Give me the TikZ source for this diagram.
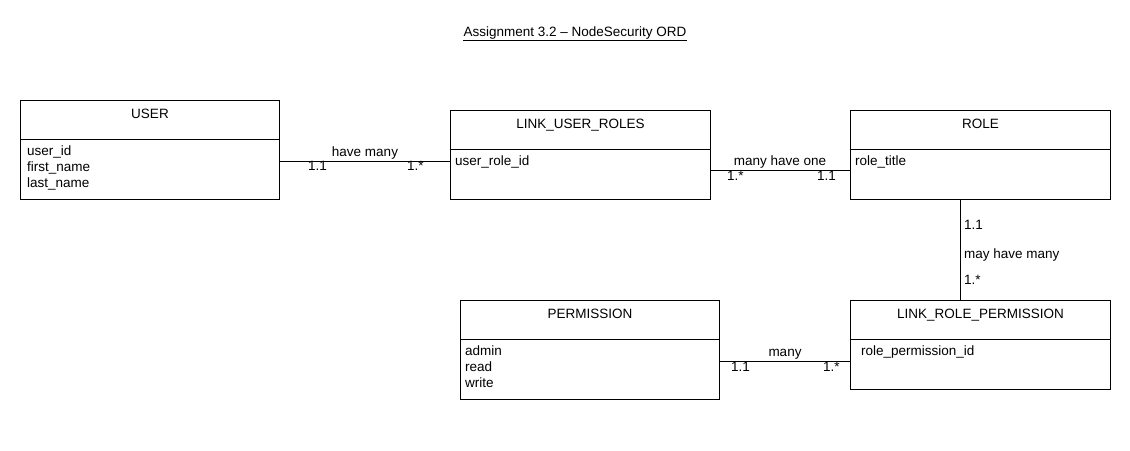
\documentclass[tikz,border=0pt]{standalone}
\usepackage{fontspec}
\setmainfont{Liberation Sans}
\usetikzlibrary{calc}
\begin{document}
\begin{tikzpicture}[x=1pt,y=-1pt,
  every node/.style={font=\fontsize{13.5}{16}\selectfont, inner sep=0pt, text=black},
  box/.style={draw, line width=1pt, rectangle, anchor=north west, minimum width=#1},
  ttl/.style={anchor=base},
  attr/.style={anchor=base west},
  lbl/.style={anchor=base},
  conn/.style={line width=1pt}]
\useasboundingbox[fill=white] (0,0) rectangle (1130,450);

% title
\node[ttl] (title) at (575,36) {Assignment 3.2 -- NodeSecurity ORD};
\draw[line width=0.8pt] ([yshift=-4pt]title.base west) -- ([yshift=-4pt]title.base east);

% USER
\node[box=259pt, minimum height=99pt] (user) at (20,100) {};
\draw[line width=1pt] ($(user.north west)+(0,39)$) -- ($(user.north east)+(0,39)$);
\node[ttl] (userT) at ($(user.north)+(0,18)$) {USER};
\node[attr] (u1) at ($(user.north west)+(7,55)$) {user\_id};
\node[attr] (u2) at ($(user.north west)+(7,71)$) {first\_name};
\node[attr] (u3) at ($(user.north west)+(7,87)$) {last\_name};

% LINK_USER_ROLES
\node[box=260pt, minimum height=89pt] (lur) at (450,110) {};
\draw[line width=1pt] ($(lur.north west)+(0,39)$) -- ($(lur.north east)+(0,39)$);
\node[ttl] (lurT) at ($(lur.north)+(0,18)$) {LINK\_USER\_ROLES};
\node[attr] (lur1) at ($(lur.north west)+(5,55)$) {user\_role\_id};

% ROLE
\node[box=260pt, minimum height=89pt] (role) at (850,110) {};
\draw[line width=1pt] ($(role.north west)+(0,39)$) -- ($(role.north east)+(0,39)$);
\node[ttl] (roleT) at ($(role.north)+(0,18)$) {ROLE};
\node[attr] (role1) at ($(role.north west)+(5,55)$) {role\_title};

% PERMISSION
\node[box=259pt, minimum height=99pt] (perm) at (460,300) {};
\draw[line width=1pt] ($(perm.north west)+(0,39)$) -- ($(perm.north east)+(0,39)$);
\node[ttl] (permT) at ($(perm.north)+(0,18)$) {PERMISSION};
\node[attr] (p1) at ($(perm.north west)+(5,55)$) {admin};
\node[attr] (p2) at ($(perm.north west)+(5,71)$) {read};
\node[attr] (p3) at ($(perm.north west)+(5,87)$) {write};

% LINK_ROLE_PERMISSION
\node[box=260pt, minimum height=89pt] (lrp) at (850,300) {};
\draw[line width=1pt] ($(lrp.north west)+(0,39)$) -- ($(lrp.north east)+(0,39)$);
\node[ttl] (lrpT) at ($(lrp.north)+(0,18)$) {LINK\_ROLE\_PERMISSION};
\node[attr] (lrp1) at ($(lrp.north west)+(11,55)$) {role\_permission\_id};

% connectors
\coordinate (c1a) at ($(user.north east)+(0,61)$);
\draw[conn] (c1a) -- (c1a -| lur.west);
\node[lbl] (c1l) at (365,156) {have many};
\node[attr] (c1m1) at (308,170) {1.1};
\node[attr] (c1m2) at (407,170) {1.*};

\coordinate (c2a) at ($(lur.north east)+(0,60)$);
\draw[conn] (c2a) -- (c2a -| role.west);
\node[lbl] (c2l) at (780,165) {many have one};
\node[attr] (c2m1) at (727,180) {1.*};
\node[attr] (c2m2) at (817,180) {1.1};

\coordinate (c3a) at ($(role.south west)+(110,0)$);
\draw[conn] (c3a) -- (c3a |- lrp.north);
\node[attr] (c3m1) at (964,229) {1.1};
\node[attr] (c3l) at (964,258) {may have many};
\node[attr] (c3m2) at (964,284) {1.*};

\coordinate (c4a) at ($(perm.north east)+(0,61)$);
\draw[conn] (c4a) -- (c4a -| lrp.west);
\node[lbl] (c4l) at (785,356) {many};
\node[attr] (c4m1) at (731,371) {1.1};
\node[attr] (c4m2) at (823,371) {1.*};
\end{tikzpicture}
\end{document}
